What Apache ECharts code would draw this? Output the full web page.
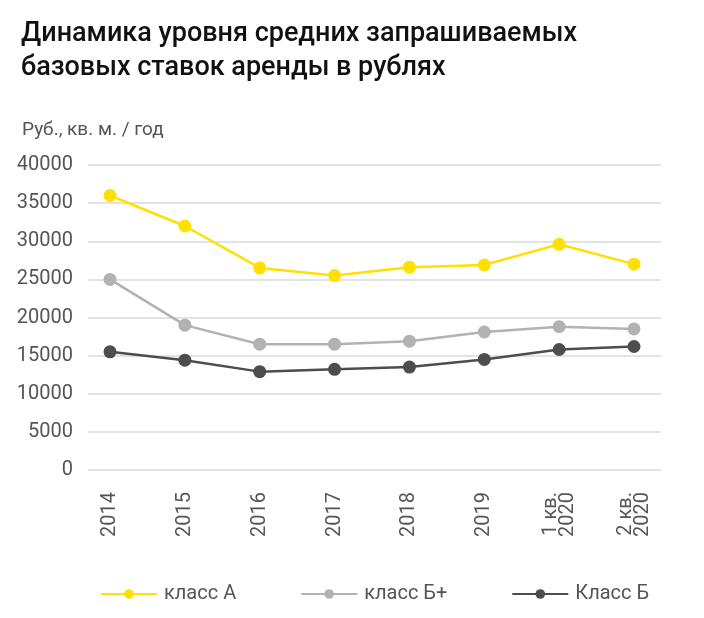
<!DOCTYPE html>
<html>
<head>
<meta charset="utf-8">
<script src="https://cdn.jsdelivr.net/npm/echarts@6/dist/echarts.min.js"></script>
<style>
html,body{margin:0;padding:0;background:#fff;}
#chart{width:704px;height:618px;}
</style>
</head>
<body>
<div id="chart"></div>
<script>
var categories = ['2014', '2015', '2016', '2017', '2018', '2019', '1 кв.\n2020', '2 кв.\n2020'];
var seriesNames = ['класс А', 'класс Б+', 'Класс Б'];
var classA = [36000, 32000, 26500, 25500, 26600, 26900, 29600, 27000];
var classBplus = [25000, 19000, 16500, 16500, 16900, 18100, 18800, 18500];
var classB = [15500, 14400, 12900, 13200, 13500, 14500, 15800, 16200];
var yTicks = [0, 5000, 10000, 15000, 20000, 25000, 30000, 35000, 40000];
var titleText = 'Динамика уровня средних запрашиваемых\nбазовых ставок аренды в рублях';
var unitText = 'Руб., кв. м. / год';

var colors = ['#FFE000', '#B2B2B2', '#4D4D4D'];
var FONT = 'Roboto';
var chart = echarts.init(document.getElementById('chart'), null, {renderer: 'canvas'});

var yMin = yTicks[0], yMax = yTicks[yTicks.length - 1], yStep = yTicks[1] - yTicks[0];

function mkSeries(name, data, i) {
  return {
    name: name, type: 'line', data: data,
    xAxisIndex: 1, yAxisIndex: 1,
    symbol: 'circle', symbolSize: 13,
    lineStyle: {color: colors[i], width: 2.5},
    itemStyle: {color: colors[i]},
    z: 3 + i
  };
}

chart.setOption({
  animation: false,
  backgroundColor: '#fff',
  title: [
    {text: titleText, left: 16, top: 12,
     textStyle: {fontFamily: FONT, fontSize: 27, fontWeight: 500, color: '#111', lineHeight: 34}},
    {text: unitText, left: 17, top: 116,
     textStyle: {fontFamily: FONT, fontSize: 19, fontWeight: 'normal', color: '#555'}}
  ],
  legend: {
    left: 100, top: 584, padding: 0,
    itemWidth: 56, itemHeight: 12, itemGap: 64,
    textStyle: {fontFamily: FONT, fontSize: 20, color: '#555', padding: [0, 0, 0, 2]},
    data: seriesNames
  },
  grid: [
    {left: 88, right: 43, top: 165, bottom: 148},
    {left: 110, right: 70, top: 165, bottom: 148}
  ],
  xAxis: [
    {gridIndex: 0, type: 'value', show: false, min: 0, max: 1},
    {gridIndex: 1, type: 'category', data: categories, boundaryGap: false,
     axisLine: {show: false}, axisTick: {show: false},
     axisLabel: {rotate: 90, margin: 22, fontFamily: FONT, fontSize: 20, color: '#555', lineHeight: 17}}
  ],
  yAxis: [
    {gridIndex: 0, type: 'value', min: yMin, max: yMax, interval: yStep,
     axisLine: {show: false}, axisTick: {show: false},
     axisLabel: {margin: 15, fontFamily: FONT, fontSize: 20, color: '#555',
                 formatter: function (v) { return String(v); }},
     splitLine: {lineStyle: {color: '#E3E3E3', width: 2}}},
    {gridIndex: 1, type: 'value', min: yMin, max: yMax, interval: yStep, show: false,
     splitLine: {show: false}}
  ],
  series: [
    mkSeries(seriesNames[0], classA, 0),
    mkSeries(seriesNames[1], classBplus, 1),
    mkSeries(seriesNames[2], classB, 2)
  ]
});
</script>
</body>
</html>
